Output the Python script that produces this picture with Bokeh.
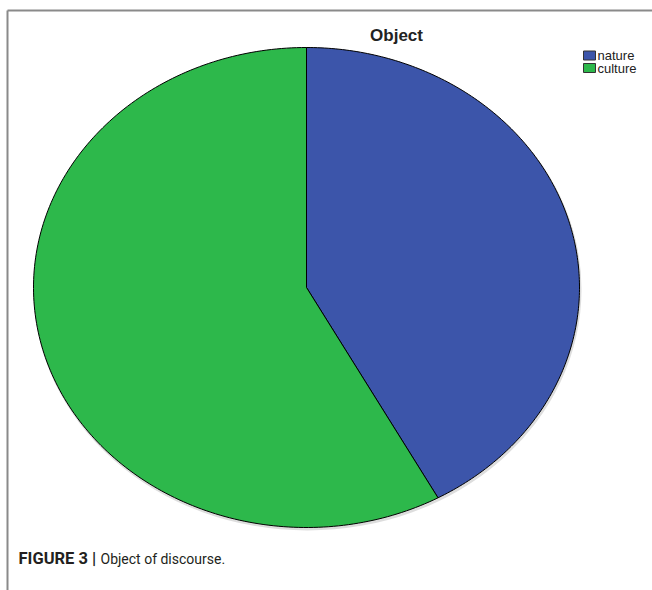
import numpy as np
from bokeh.plotting import figure
from bokeh.models import Range1d, ColumnDataSource
from bokeh.core.properties import value
from bokeh.embed import file_html
from bokeh.resources import INLINE

# ---- data ----
categories = ["nature", "culture"]
percents = [42.0, 58.0]
colors = ["#3c55aa", "#2db84b"]
title_text = "Object"
caption_bold = "FIGURE 3 |"
caption_text = "Object of discourse."

W, H = 652, 590
p = figure(width=W, height=H, output_backend="svg", toolbar_location=None,
           x_range=Range1d(0, W), y_range=Range1d(H, 0), min_border=0)
p.axis.visible = False
p.grid.visible = False
p.outline_line_color = None
p.background_fill_color = "white"
p.border_fill_color = "white"

# frame lines
p.segment(x0=[7, 7], y0=[10, 10], x1=[W, 7], y1=[10, H], line_color="#8a8a8a", line_width=2)

# elliptical pie
cx, cy, a, b = 306, 287, 273, 240
# faint shadow
p.ellipse(x=[cx + 1], y=[cy + 2], width=[2 * a + 2], height=[2 * b + 2],
          fill_color="#bbbbbb", fill_alpha=0.5, line_color=None)

total = sum(percents)
start = 0.0
xs, ys = [], []
for v in percents:
    end = start + v / total * 2 * np.pi
    th = np.linspace(start, end, 200)
    x = np.concatenate([[cx], cx + a * np.sin(th), [cx]])
    y = np.concatenate([[cy], cy - b * np.cos(th), [cy]])
    xs.append(list(x))
    ys.append(list(y))
    start = end
src = ColumnDataSource(dict(xs=xs, ys=ys, color=colors, cat=categories))
p.patches("xs", "ys", source=src, fill_color="color", line_color="black", line_width=1)

# title
p.text(x=[396], y=[35], text=[title_text], text_font=value("Liberation Sans"),
       text_font_style="bold", text_font_size="17px", text_align="center",
       text_baseline="middle", text_color="#222222")

# legend
ly = [55 + 12.5 * i for i in range(len(categories))]
p.rect(x=[589] * len(categories), y=ly, width=12, height=9, fill_color=colors,
       line_color="#333333", line_width=1)
p.text(x=[597] * len(categories), y=ly, text=categories, text_font=value("Liberation Sans"),
       text_font_size="13px", text_baseline="middle", text_color="#222222")

# caption
p.text(x=[18], y=[558], text=[caption_bold], text_font=value("Roboto"),
       text_font_style="bold", text_font_size="16.5px", text_baseline="alphabetic",
       text_color="#231f20")
p.text(x=[100], y=[558], text=[caption_text], text_font=value("Roboto"),
       text_font_size="14px", text_baseline="alphabetic", text_color="#231f20")

open("out.html", "w").write(file_html(p, INLINE))
